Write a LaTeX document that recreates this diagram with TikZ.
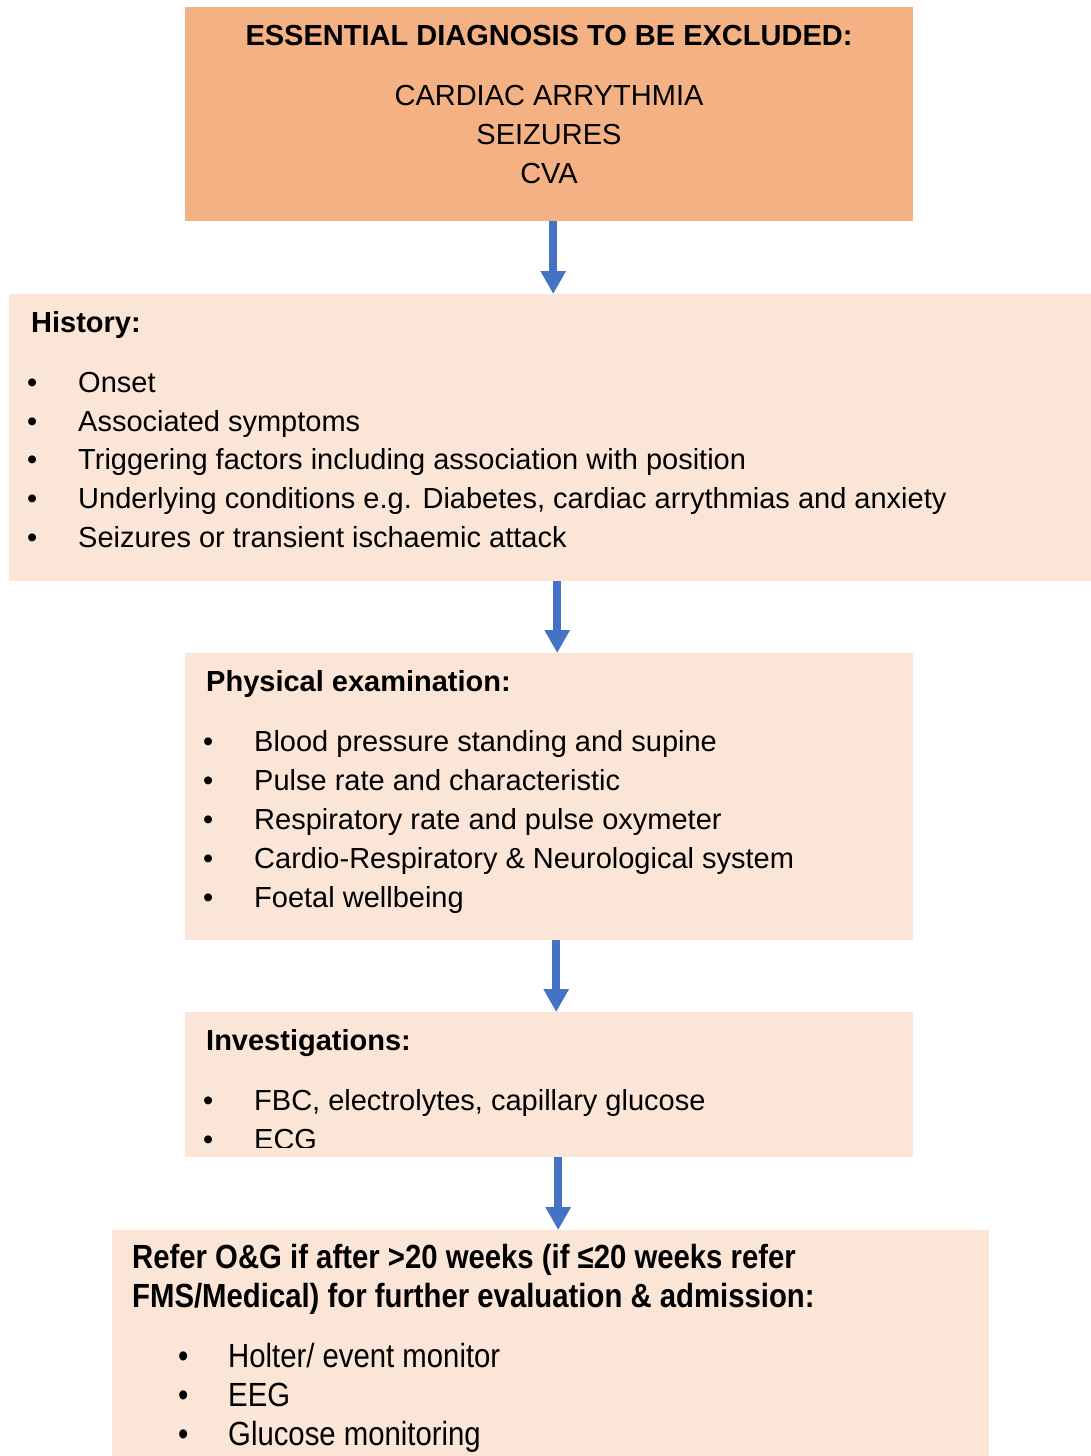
\documentclass[tikz,border=0pt]{standalone}
\usepackage{fontspec}
\setmainfont{Liberation Sans}
\newfontfamily\narrowfont[FakeStretch=0.875]{Liberation Sans}
\usetikzlibrary{arrows.meta}
\definecolor{headfill}{HTML}{F4B183}
\definecolor{stepfill}{HTML}{FBE5D6}
\definecolor{flowblue}{HTML}{4472C4}
\tikzset{
  panel/.style={fill=#1, draw=none, inner sep=0pt, anchor=north west},
  txt/.style={inner sep=0pt, anchor=base west, font=\fontsize{29}{35}\selectfont},
  ctxt/.style={inner sep=0pt, anchor=base, font=\fontsize{29}{35}\selectfont},
  ntxt/.style={inner sep=0pt, anchor=base west, font=\narrowfont\fontsize{33.5}{40}\selectfont},
  flow/.style={draw=flowblue, line width=8pt, -{Triangle[width=24pt,length=23pt]}}
}
\begin{document}
\begin{tikzpicture}[x=1pt,y=-1pt]
\useasboundingbox (0,0) rectangle (1091,1456);

% panels
\node[panel=headfill, minimum width=728pt, minimum height=214pt] (top) at (185,7) {};
\node[panel=stepfill, minimum width=1082pt, minimum height=287pt] (hist) at (9,294) {};
\node[panel=stepfill, minimum width=728pt, minimum height=287pt] (phys) at (185,653) {};
\node[panel=stepfill, minimum width=728pt, minimum height=145pt] (inv) at (185,1012) {};
\node[panel=stepfill, minimum width=877pt, minimum height=226pt] (refer) at (112,1230) {};

% heading panel
\node[ctxt, font=\bfseries\fontsize{29}{35}\selectfont] (t0) at (549,45) {ESSENTIAL DIAGNOSIS TO BE EXCLUDED:};
\node[ctxt] (t1) at (549,105) {CARDIAC ARRYTHMIA};
\node[ctxt] (t2) at (549,144) {SEIZURES};
\node[ctxt] (t3) at (549,183) {CVA};

% history
\node[txt, font=\bfseries\fontsize{29}{35}\selectfont] (h0) at (31,332) {History:};
\foreach \y/\t [count=\i] in {392/Onset, 431/Associated symptoms,
  469/Triggering factors including association with position,
  508/{Underlying conditions e.g. Diabetes, cardiac arrythmias and anxiety},
  547/Seizures or transient ischaemic attack}{
  \node[txt] (hb\i) at (27,\y) {•};
  \node[txt] (h\i) at (78,\y) {\t};
}

% physical examination
\node[txt, font=\bfseries\fontsize{29}{35}\selectfont] (p0) at (206,691) {Physical examination:};
\foreach \y/\t [count=\i] in {751/Blood pressure standing and supine,
  790/Pulse rate and characteristic,
  829/Respiratory rate and pulse oxymeter,
  868/Cardio-Respiratory \& Neurological system,
  907/Foetal wellbeing}{
  \node[txt] (pb\i) at (203,\y) {•};
  \node[txt] (p\i) at (254,\y) {\t};
}

% investigations
\node[txt, font=\bfseries\fontsize{29}{35}\selectfont] (i0) at (206,1050) {Investigations:};
\node[txt] (ib1) at (203,1110) {•};
\node[txt] (i1) at (254,1110) {FBC, electrolytes, capillary glucose};
\begin{scope}
  \clip (185,1012) rectangle (913,1147);
  \node[txt] (ib2) at (203,1149) {•};
  \node[txt] (i2) at (254,1149) {ECG};
\end{scope}

% referral
\node[ntxt, font=\narrowfont\bfseries\fontsize{33.5}{40}\selectfont] (r0) at (132,1268) {Refer O\&G if after >20 weeks (if ≤20 weeks refer};
\node[ntxt, font=\narrowfont\bfseries\fontsize{33.5}{40}\selectfont] (r00) at (132,1307) {FMS/Medical) for further evaluation \& admission:};
\foreach \y/\t [count=\i] in {1367/{Holter/ event monitor}, 1406/EEG, 1445/Glucose monitoring}{
  \node[ntxt] (rb\i) at (178,\y) {•};
  \node[ntxt] (r\i) at (228,\y) {\t};
}

% connectors
\draw[flow] ([xshift=4pt]top.south) -- ([xshift=4pt]top.south |- hist.north);
\draw[flow] ([xshift=7pt]hist.south) -- ([xshift=7pt]hist.south |- phys.north);
\draw[flow] ([xshift=7pt]phys.south) -- ([xshift=7pt]phys.south |- inv.north);
\draw[flow] ([xshift=9pt]inv.south) -- ([xshift=9pt]inv.south |- refer.north);
\end{tikzpicture}
\end{document}
